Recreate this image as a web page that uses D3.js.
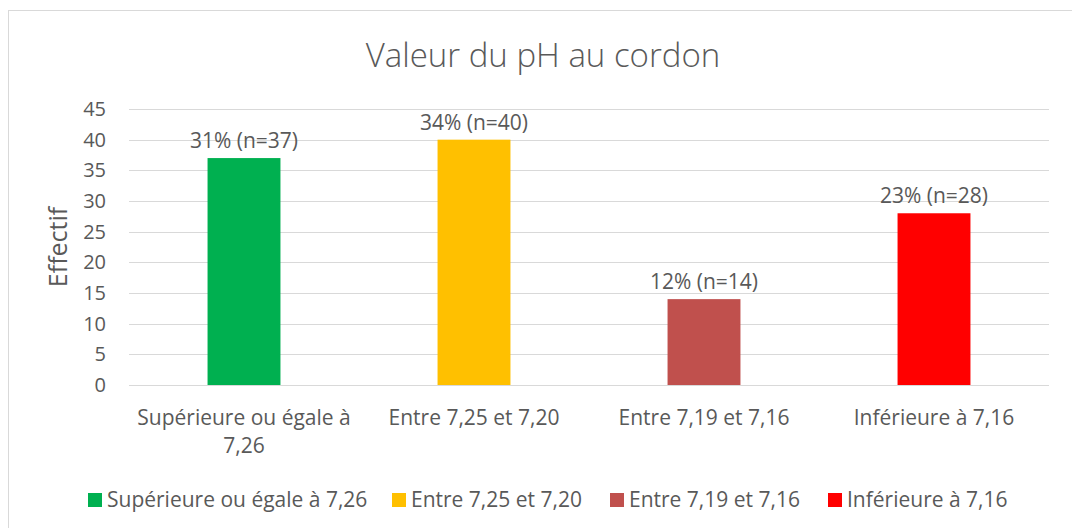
<!DOCTYPE html>
<html>
<head>
<meta charset="utf-8">
<script src="https://cdn.jsdelivr.net/npm/d3@7"></script>
<style>
  html, body { margin: 0; padding: 0; background: #fff; }
  svg { display: block; }
  text { font-family: "Open Sans", "Noto Sans", sans-serif; fill: #595959; }
</style>
</head>
<body>
<svg id="chart" width="1072" height="528"></svg>
<script>
// pH classes at the umbilical cord, with counts and shares
const categories = [
  "Supérieure ou égale à 7,26",
  "Entre 7,25 et 7,20",
  "Entre 7,19 et 7,16",
  "Inférieure à 7,16"
];
const axisLabels = [
  ["Supérieure ou égale à", "7,26"],
  ["Entre 7,25 et 7,20"],
  ["Entre 7,19 et 7,16"],
  ["Inférieure à 7,16"]
];
const counts = [37, 40, 14, 28];
const percents = [31, 34, 12, 23];
const colors = ["#00B050", "#FFC000", "#C0504D", "#FF0000"];
const yTicks = [0, 5, 10, 15, 20, 25, 30, 35, 40, 45];

const svg = d3.select("#chart");
const W = 1072, H = 528;
const margin = { left: 129, right: 23, top: 109, bottom: 143 };

// chart frame
svg.append("rect")
  .attr("x", 8.5).attr("y", 10.5)
  .attr("width", W + 10).attr("height", H + 10)
  .attr("fill", "none").attr("stroke", "#d9d9d9").attr("stroke-width", 1);

const x = d3.scaleBand()
  .domain(categories)
  .range([margin.left, W - margin.right])
  .padding(0);

const y = d3.scaleLinear()
  .domain([0, 45])
  .range([H - margin.bottom, margin.top]);

// horizontal gridlines
svg.append("g").selectAll("line")
  .data(yTicks)
  .join("line")
  .attr("x1", margin.left).attr("x2", W - margin.right)
  .attr("y1", d => Math.round(y(d)) + 0.5).attr("y2", d => Math.round(y(d)) + 0.5)
  .attr("stroke", "#d9d9d9").attr("stroke-width", 1);

// y axis tick labels
const yAxis = d3.axisLeft(y).tickValues(yTicks).tickSize(0).tickPadding(23);
const gy = svg.append("g")
  .attr("transform", `translate(${margin.left},0)`)
  .call(yAxis);
gy.select(".domain").remove();
gy.selectAll("text")
  .style("font-size", "20px")
  .style("font-family", "\"Open Sans\", sans-serif")
  .attr("fill", "#595959");

// y axis title
svg.append("text")
  .attr("transform", `translate(67,${(y(0) + y(45)) / 2}) rotate(-90)`)
  .attr("text-anchor", "middle")
  .style("font-size", "25px")
  .text("Effectif");

// bars
const barW = x.bandwidth() * 0.317;
svg.append("g").selectAll("rect")
  .data(categories)
  .join("rect")
  .attr("x", d => x(d) + (x.bandwidth() - barW) / 2)
  .attr("y", (d, i) => y(counts[i]))
  .attr("width", barW)
  .attr("height", (d, i) => y(0) - y(counts[i]))
  .attr("fill", (d, i) => colors[i]);

// value labels above bars
svg.append("g").selectAll("text")
  .data(categories)
  .join("text")
  .attr("x", d => x(d) + x.bandwidth() / 2)
  .attr("y", (d, i) => y(counts[i]) - 10)
  .attr("text-anchor", "middle")
  .style("font-size", "21px")
  .text((d, i) => `${percents[i]}% (n=${counts[i]})`);

// category labels
const cat = svg.append("g").selectAll("text")
  .data(categories)
  .join("text")
  .attr("x", d => x(d) + x.bandwidth() / 2)
  .attr("y", 425)
  .attr("text-anchor", "middle")
  .style("font-size", "21px");
cat.each(function(d, i) {
  const t = d3.select(this);
  axisLabels[i].forEach((line, k) => {
    t.append("tspan")
      .attr("x", x(d) + x.bandwidth() / 2)
      .attr("dy", k === 0 ? 0 : 28)
      .text(line);
  });
});

// title
svg.append("text")
  .attr("x", 543)
  .attr("y", 67)
  .attr("text-anchor", "middle")
  .style("font-size", "33px")
  .style("font-weight", "300")
  .text("Valeur du pH au cordon");

// legend
const legendX = [88, 392, 610, 828];
const lg = svg.append("g").selectAll("g")
  .data(categories)
  .join("g")
  .attr("transform", (d, i) => `translate(${legendX[i]},493)`);
lg.append("rect")
  .attr("width", 14).attr("height", 14)
  .attr("fill", (d, i) => colors[i]);
lg.append("text")
  .attr("x", 19)
  .attr("y", 14)
  .style("font-size", "21px")
  .text(d => d);
</script>
</body>
</html>
